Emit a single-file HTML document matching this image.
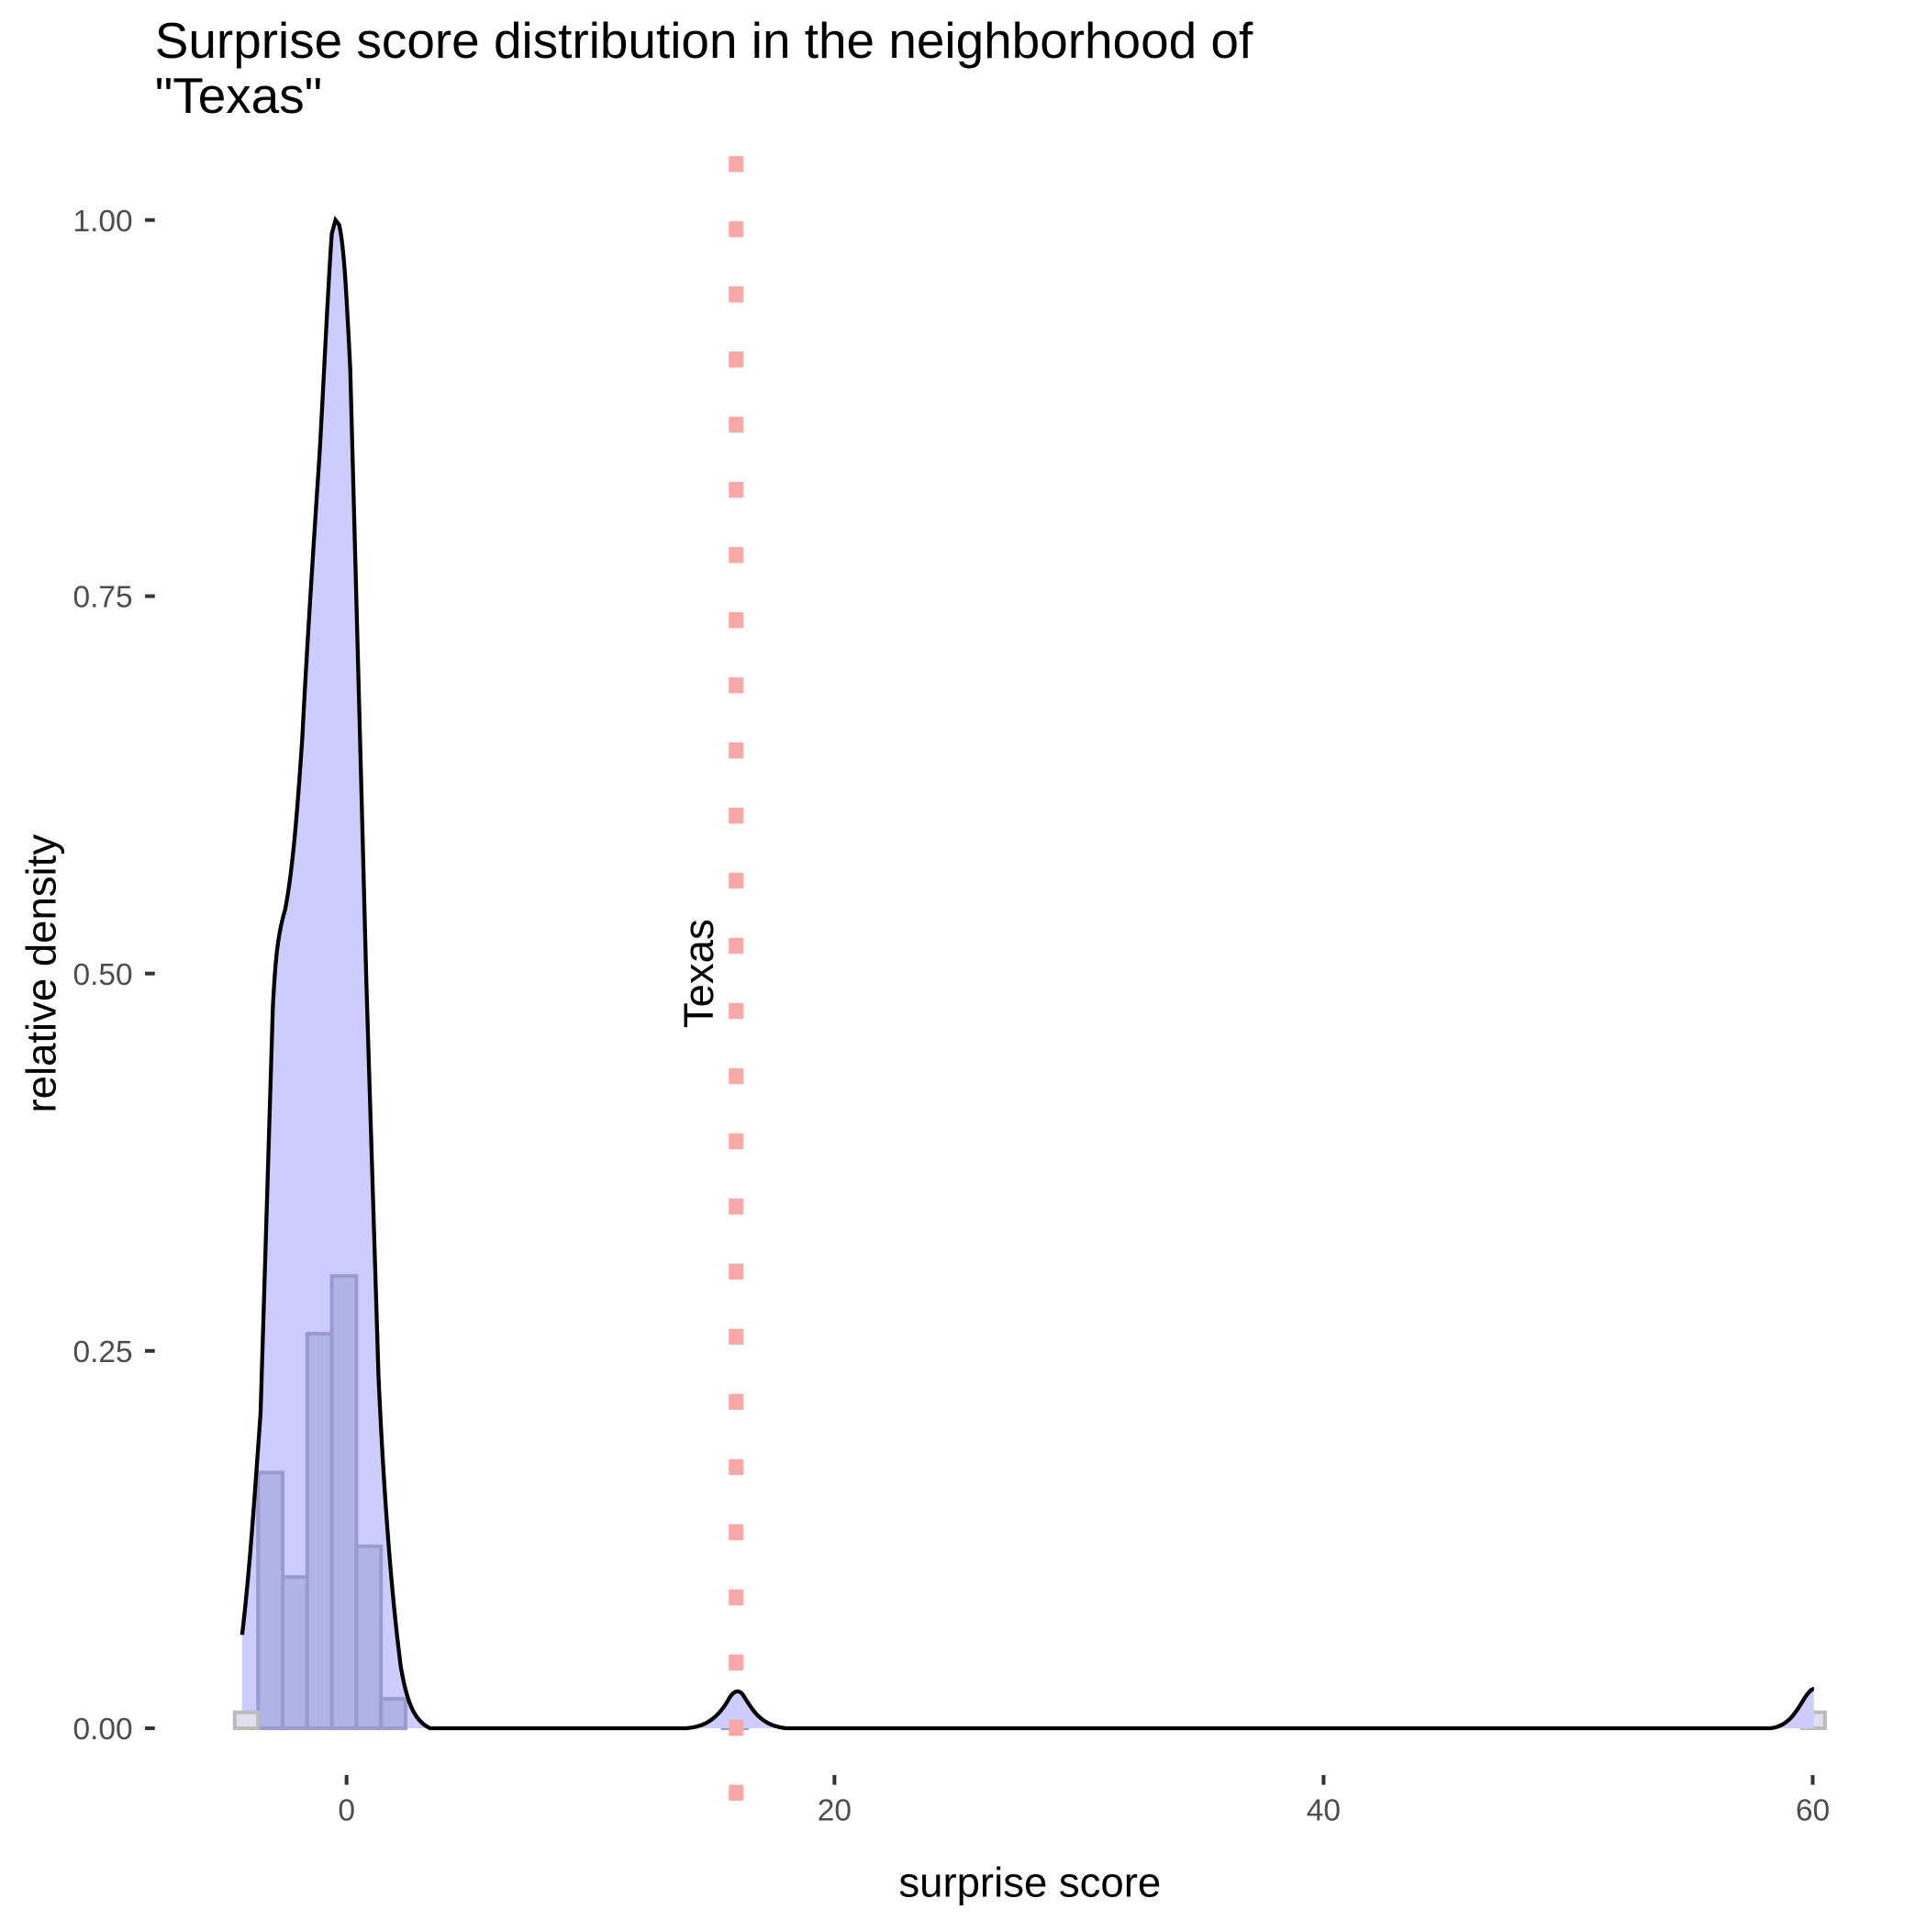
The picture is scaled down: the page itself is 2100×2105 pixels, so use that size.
<!DOCTYPE html>
<html><head><style>html,body{margin:0;padding:0;background:#fff}</style></head>
<body>
<svg width="2100" height="2100" viewBox="0 0 1568 1568" xmlns="http://www.w3.org/2000/svg" font-family="Liberation Sans, sans-serif">
<rect width="1568" height="1568" fill="#fff"/>
<text x="126" y="47" font-size="41" fill="#000">Surprise score distribution in the neighborhood of</text>
<text x="126" y="92" font-size="41" fill="#000">"Texas"</text>
<path d="M197,1406 L197,1330 C203,1280 207,1220 212,1150 C216,1050 218,950 222,820 C224,780 226,760 232,740 C238,710 242,660 246,600 C250,520 256,430 260,370 C264,300 267,230 270,190 L273,179 L276,183 C280,200 282,240 285,300 C288,400 291,520 294,640 C298,800 302,950 308,1120 C313,1230 319,1300 326,1355 C331,1385 337,1400 350,1406 Z" fill="#ccccff"/>
<g fill="#b0b3e6" stroke="#9a9acc" stroke-width="3">
<rect x="210" y="1198" width="20" height="208"/>
<rect x="230" y="1283" width="20" height="123"/>
<rect x="250" y="1085" width="20" height="321"/>
<rect x="270" y="1038" width="20" height="368"/>
<rect x="290" y="1258" width="20" height="148"/>
<rect x="310" y="1382" width="20" height="24"/>
<rect x="588" y="1393" width="20" height="13"/>
</g>
<g fill="#e0e0ee" stroke="#bbb" stroke-width="3">
<rect x="191" y="1393" width="19" height="13"/>
<rect x="1466" y="1393" width="19" height="13"/>
</g>
<path d="M558,1406 C575,1405 585,1396 592,1384 C596,1376 600,1374 604,1378 C612,1390 618,1404 640,1406 Z M1440,1406 C1455,1405 1462,1392 1468,1382 C1472,1376 1474,1374 1476,1374 L1476,1406 Z" fill="#ccccff"/>
<path d="M197,1330 C203,1280 207,1220 212,1150 C216,1050 218,950 222,820 C224,780 226,760 232,740 C238,710 242,660 246,600 C250,520 256,430 260,370 C264,300 267,230 270,190 L273,179 L276,183 C280,200 282,240 285,300 C288,400 291,520 294,640 C298,800 302,950 308,1120 C313,1230 319,1300 326,1355 C331,1385 337,1400 350,1406 L558,1406 C575,1405 585,1396 592,1384 C596,1376 600,1374 604,1378 C612,1390 618,1404 640,1406 L1440,1406 C1455,1405 1462,1392 1468,1382 C1472,1376 1474,1374 1476,1374" fill="none" stroke="#000" stroke-width="3.2"/>
<line x1="599" y1="127" x2="599" y2="1468" stroke="#f8a8a8" stroke-width="12" stroke-dasharray="13,40"/>
<text transform="translate(580,792) rotate(-90)" text-anchor="middle" font-size="34" fill="#000">Texas</text>
<g font-size="25" fill="#4d4d4d" text-anchor="end">
<text x="108" y="1415">0.00</text>
<text x="108" y="1108">0.25</text>
<text x="108" y="801">0.50</text>
<text x="108" y="494">0.75</text>
<text x="108" y="188">1.00</text>
</g>
<g stroke="#333" stroke-width="3">
<line x1="118" y1="1406" x2="126" y2="1406"/>
<line x1="118" y1="1099" x2="126" y2="1099"/>
<line x1="118" y1="792" x2="126" y2="792"/>
<line x1="118" y1="485" x2="126" y2="485"/>
<line x1="118" y1="179" x2="126" y2="179"/>
<line x1="282" y1="1444" x2="282" y2="1452"/>
<line x1="679" y1="1444" x2="679" y2="1452"/>
<line x1="1077" y1="1444" x2="1077" y2="1452"/>
<line x1="1475" y1="1444" x2="1475" y2="1452"/>
</g>
<g font-size="25" fill="#4d4d4d" text-anchor="middle">
<text x="282" y="1481">0</text>
<text x="679" y="1481">20</text>
<text x="1077" y="1481">40</text>
<text x="1475" y="1481">60</text>
</g>
<text x="838" y="1543" font-size="34" text-anchor="middle" fill="#000">surprise score</text>
<text transform="translate(45,792) rotate(-90)" text-anchor="middle" font-size="34" fill="#000">relative density</text>
</svg>
</body></html>
